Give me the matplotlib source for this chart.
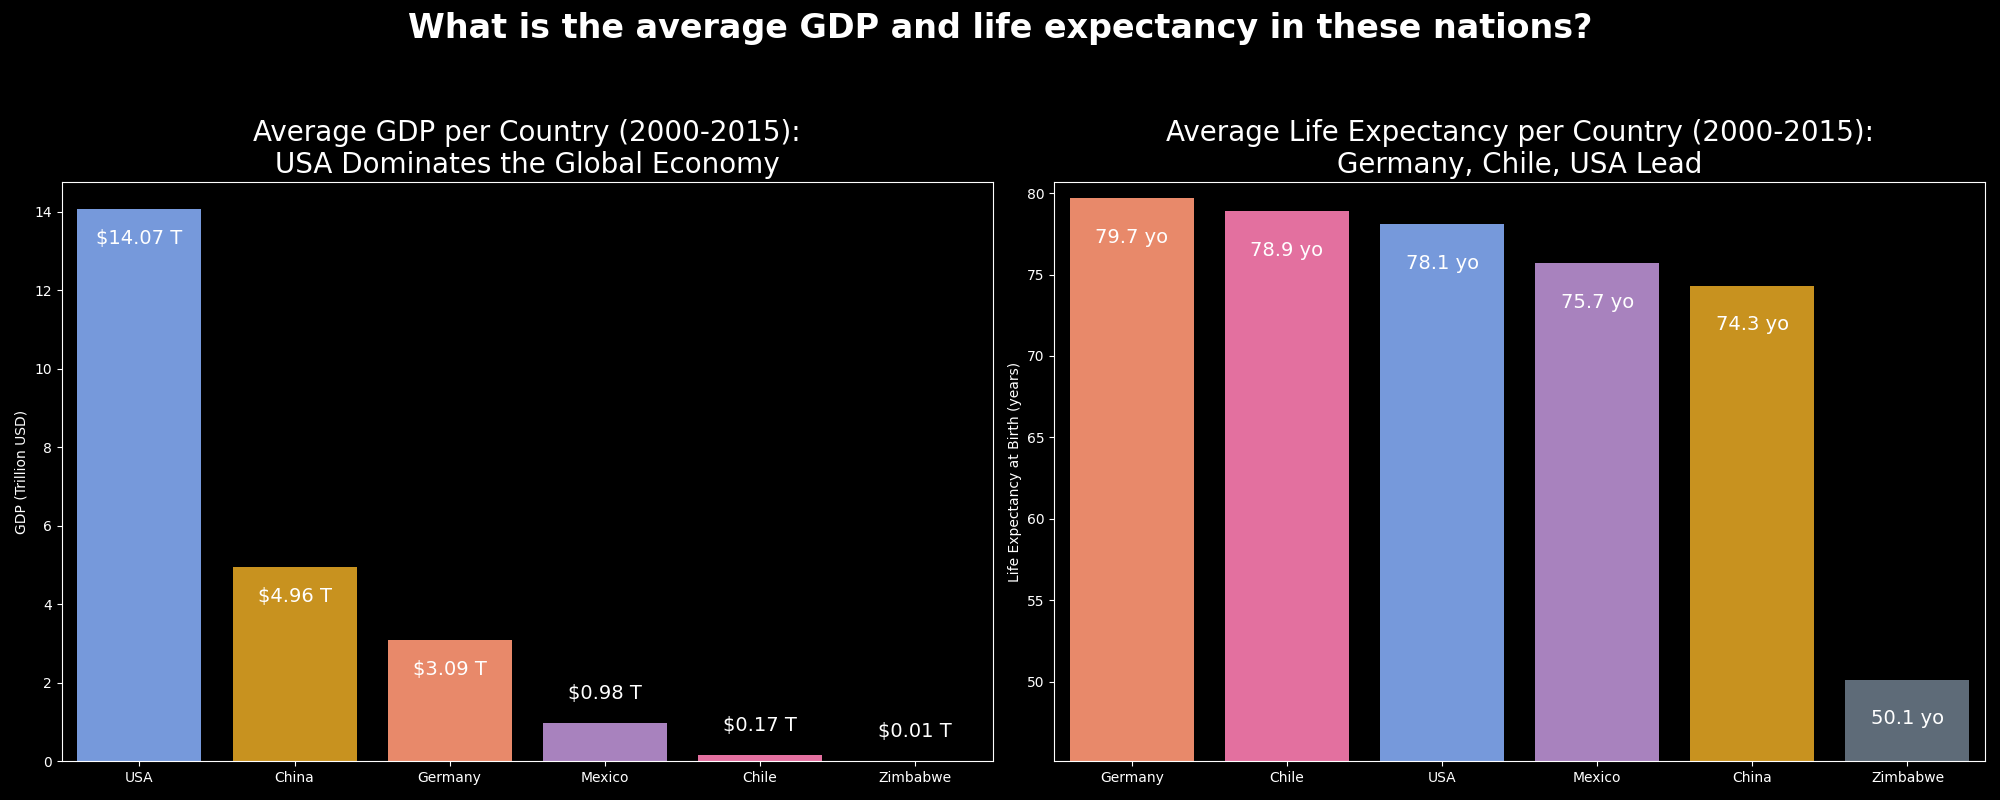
import matplotlib.pyplot as plt
import numpy as np
plt.style.use('dark_background')

gdp_countries = ["USA", "China", "Germany", "Mexico", "Chile", "Zimbabwe"]
gdp_values = [14.07, 4.96, 3.09, 0.98, 0.17, 0.01]

life_countries = ["Germany", "Chile", "USA", "Mexico", "China", "Zimbabwe"]
life_values = [79.7, 78.9, 78.1, 75.7, 74.3, 50.1]

colors = {"USA": "#7699db", "China": "#c8921f", "Germany": "#e8896a",
          "Mexico": "#a882be", "Chile": "#e3709f", "Zimbabwe": "#5e6b78"}

fig, (ax1, ax2) = plt.subplots(1, 2, figsize=(20, 8), dpi=100)
fig.suptitle("What is the average GDP and life expectancy in these nations?",
             fontsize=24, fontweight="bold", y=0.985)

x = np.arange(len(gdp_countries))
ax1.bar(x, gdp_values, width=0.8, color=[colors[c] for c in gdp_countries])
ax1.set_xticks(x, gdp_countries)
ax1.set_xlim(-0.5, 5.5)
ax1.set_ylim(0, 14.77)
ax1.set_ylabel("GDP (Trillion USD)")
ax1.set_title("Average GDP per Country (2000-2015):\nUSA Dominates the Global Economy", fontsize=20)
for i, v in enumerate(gdp_values):
    if v > 2:
        ax1.text(i, v - 0.75, f"${v:.2f} T", ha="center", va="center", fontsize=14)
    else:
        ax1.text(i, v + 0.75, f"${v:.2f} T", ha="center", va="center", fontsize=14)

x2 = np.arange(len(life_countries))
ax2.bar(x2, life_values, width=0.8, color=[colors[c] for c in life_countries])
ax2.set_xticks(x2, life_countries)
ax2.set_xlim(-0.5, 5.5)
ax2.set_ylim(45.1, 80.7)
ax2.set_ylabel("Life Expectancy at Birth (years)")
ax2.set_title("Average Life Expectancy per Country (2000-2015):\nGermany, Chile, USA Lead", fontsize=20)
for i, v in enumerate(life_values):
    ax2.text(i, v - 2.4, f"{v:.1f} yo", ha="center", va="center", fontsize=14)

plt.tight_layout(rect=(0, 0, 1, 0.93))
plt.savefig("out.png")
